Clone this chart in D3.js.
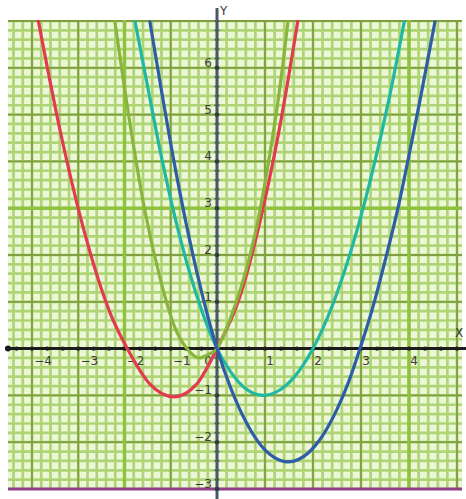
<!DOCTYPE html>
<html>
<head>
<meta charset="utf-8">
<script src="https://cdn.jsdelivr.net/npm/d3@7"></script>
<style>
  html,body{margin:0;padding:0;background:#fff;}
  svg{display:block;}
</style>
</head>
<body>
<div id="graph"></div>
<script>
// curve points, [x, y] in graph units
const redCurve = [[-3.87,7.04],[-3.39,4.65],[-2.85,2.43],[-2.31,0.76],[-1.94,0],[-1.45,-0.76],[-0.93,-1.03],[-0.45,-0.77],[0,0],[0.48,1.12],[0.96,3.0],[1.31,4.75],[1.69,7.04]]
const oliveCurve = [[-2.21,7.0],[-1.88,4.8],[-1.56,2.95],[-1.23,1.5],[-0.91,0.45],[-0.65,0.0],[-0.39,-0.2],[-0.2,-0.13],[0,0],[0.27,0.62],[0.58,1.58],[0.85,2.72],[1.1,4.15],[1.3,5.5],[1.48,7.0]]
const tealCurve = [[-1.77,6.98],[-1.5,5.6],[-1.2,4.09],[-0.9,2.77],[-0.6,1.65],[-0.3,0.73],[0,0],[0.3,-0.52],[0.6,-0.86],[0.96,-1.0],[1.3,-0.89],[1.6,-0.62],[2.0,0],[2.4,0.91],[2.8,2.12],[3.2,3.62],[3.6,5.41],[3.9,6.98]]
const blueCurve = [[-1.45,6.98],[-1.2,5.51],[-0.9,3.84],[-0.6,2.36],[-0.3,1.08],[0,0],[0.3,-0.88],[0.6,-1.56],[0.9,-2.05],[1.2,-2.33],[1.48,-2.42],[1.9,-2.23],[2.2,-1.86],[2.5,-1.3],[2.75,-0.69],[2.98,0],[3.29,1.04],[3.52,1.95],[3.77,3.0],[3.98,4.03],[4.23,5.31],[4.54,6.98]]

const xTicks = [-4,-3,-2,-1,1,2,3,4]
const yTicks = [-3,-2,-1,1,2,3,4,5,6]
const xLabels = ['\u22124','\u22123','\u22122','\u22121','1','2','3','4']
const yLabels = ['\u22123','\u22122','\u22121','1','2','3','4','5','6']
const heavyX = [-2,4]
const heavyY = [3]

const curves = [
  {name:'red', pts:redCurve, color:'#e23b4f'},
  {name:'olive', pts:oliveCurve, color:'#8ab53c'},
  {name:'teal', pts:tealCurve, color:'#1fb9a2'},
  {name:'blue', pts:blueCurve, color:'#2d5da6'}
]

const W = 466, H = 499
const plot = {left:8, right:462, top:20, bottom:489}

// the paper is a little squeezed on the left of the y axis
const x = d3.scaleLinear().domain([-4,0,5]).range([32,217,457])
const y = d3.scaleLinear().domain([-3,7]).range([489,21])

const svg = d3.select('#graph').append('svg')
  .attr('width',W).attr('height',H)
  .attr('font-family','"DejaVu Sans", sans-serif')

svg.append('defs').append('clipPath').attr('id','plotClip')
  .append('rect')
  .attr('x',plot.left).attr('y',plot.top)
  .attr('width',plot.right-plot.left).attr('height',plot.bottom-plot.top)

/** ======== grid paper ======== */
const grid = svg.append('g').attr('class','grid').attr('clip-path','url(#plotClip)')
grid.append('rect')
  .attr('x',plot.left).attr('y',plot.top)
  .attr('width',plot.right-plot.left).attr('height',plot.bottom-plot.top)
  .attr('fill','#ecf7d7')

const x0 = x.invert(plot.left), x1 = x.invert(plot.right)
const y0 = y.invert(plot.bottom), y1 = y.invert(plot.top)
const minorX = d3.range(Math.ceil(x0*5), Math.floor(x1*5)+1).map(d=>d/5)
const minorY = d3.range(Math.ceil(y0*5), Math.floor(y1*5)+1).map(d=>d/5)

grid.selectAll('line.minorV').data(minorX).join('line').attr('class','minorV')
  .attr('x1',d=>x(d)).attr('x2',d=>x(d)).attr('y1',plot.top).attr('y2',plot.bottom)
  .attr('stroke','#afd475').attr('stroke-width',2.7)
grid.selectAll('line.minorH').data(minorY).join('line').attr('class','minorH')
  .attr('y1',d=>y(d)).attr('y2',d=>y(d)).attr('x1',plot.left).attr('x2',plot.right)
  .attr('stroke','#afd475').attr('stroke-width',2.7)

const majorX = minorX.filter(d=>Math.abs(d-Math.round(d))<1e-6)
const majorY = minorY.filter(d=>Math.abs(d-Math.round(d))<1e-6)
grid.selectAll('line.majorV').data(majorX).join('line').attr('class','majorV')
  .attr('x1',d=>x(d)).attr('x2',d=>x(d)).attr('y1',plot.top).attr('y2',plot.bottom)
  .attr('stroke','#7f9f40').attr('stroke-width',1.8)
grid.selectAll('line.majorH').data(majorY).join('line').attr('class','majorH')
  .attr('y1',d=>y(d)).attr('y2',d=>y(d)).attr('x1',plot.left).attr('x2',plot.right)
  .attr('stroke','#7f9f40').attr('stroke-width',1.8)

grid.selectAll('line.heavyV').data(heavyX).join('line').attr('class','heavyV')
  .attr('x1',d=>x(d)).attr('x2',d=>x(d)).attr('y1',plot.top).attr('y2',plot.bottom)
  .attr('stroke','#8fc23e').attr('stroke-width',3.5)
grid.selectAll('line.heavyH').data(heavyY).join('line').attr('class','heavyH')
  .attr('y1',d=>y(d)).attr('y2',d=>y(d)).attr('x1',plot.left).attr('x2',plot.right)
  .attr('stroke','#8fc23e').attr('stroke-width',3.5)

// purple rule along the bottom (y = -3)
svg.append('line')
  .attr('x1',plot.left).attr('x2',plot.right).attr('y1',y(-3)).attr('y2',y(-3))
  .attr('stroke','#8f3f86').attr('stroke-width',3)

/** ======== axes ======== */
const axes = svg.append('g').attr('class','axes')
axes.append('line')
  .attr('x1',5).attr('x2',W).attr('y1',y(0)).attr('y2',y(0))
  .attr('stroke','#1c1c1c').attr('stroke-width',3)
axes.append('circle').attr('cx',8).attr('cy',y(0)).attr('r',3).attr('fill','#1c1c1c')
axes.selectAll('circle.xdot').data(d3.range(-13,16).map(d=>d/3)).join('circle').attr('class','xdot')
  .attr('cx',d=>x(d)).attr('cy',y(0)).attr('r',2.2).attr('fill','#1c1c1c')

axes.append('line')
  .attr('x1',x(0)).attr('x2',x(0)).attr('y1',8).attr('y2',H)
  .attr('stroke','#4a5866').attr('stroke-width',3)
axes.selectAll('line.ytick').data(d3.range(-15,36).map(d=>d/5)).join('line').attr('class','ytick')
  .attr('x1',x(0)-2.5).attr('x2',x(0)+2.5).attr('y1',d=>y(d)).attr('y2',d=>y(d))
  .attr('stroke','#4a5866').attr('stroke-width',1.5)
axes.selectAll('circle.ydot').data(yTicks).join('circle').attr('class','ydot')
  .attr('cx',x(0)).attr('cy',d=>y(d)).attr('r',2.2).attr('fill','#2e3a44')

/** ======== labels ======== */
const labels = svg.append('g').attr('class','labels')
  .attr('font-size',12).attr('fill','#3a3a3a')
labels.selectAll('text.xl').data(xTicks).join('text').attr('class','xl')
  .attr('x',d=>x(d)+(d<0?11:5)).attr('y',y(0)+16)
  .attr('text-anchor','middle')
  .text((d,i)=>xLabels[i])
labels.append('text').attr('x',x(0)-9).attr('y',y(0)+16).attr('text-anchor','middle').text('0')
labels.selectAll('text.yl').data(yTicks).join('text').attr('class','yl')
  .attr('x',x(0)-5).attr('y',d=>y(d)-1)
  .attr('text-anchor','end')
  .text((d,i)=>yLabels[i])
labels.append('text').attr('x',x(0)+3).attr('y',15).attr('font-size',12).text('Y')
labels.append('text').attr('x',455).attr('y',337).attr('font-size',12).text('X')

/** ======== curves ======== */
const line = d3.line()
  .x(d=>x(d[0])).y(d=>y(d[1]))
  .curve(d3.curveMonotoneX)

svg.append('g').attr('class','curves').attr('clip-path','url(#plotClip)')
  .selectAll('path').data(curves).join('path')
  .attr('d',d=>line(d.pts))
  .attr('fill','none')
  .attr('stroke',d=>d.color)
  .attr('stroke-width',3.2)
  .attr('stroke-linecap','round')
</script>
</body>
</html>
